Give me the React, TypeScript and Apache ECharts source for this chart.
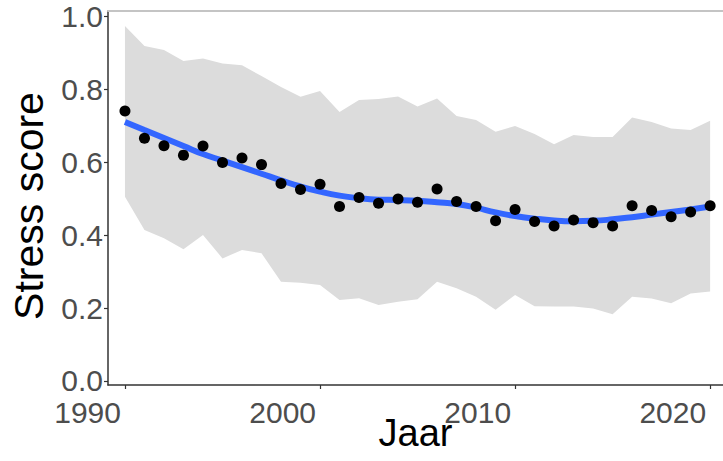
import React, { useEffect, useRef } from "react";
import * as echarts from "echarts";

const years = [1990, 1991, 1992, 1993, 1994, 1995, 1996, 1997, 1998, 1999, 2000, 2001, 2002, 2003, 2004, 2005, 2006, 2007, 2008, 2009, 2010, 2011, 2012, 2013, 2014, 2015, 2016, 2017, 2018, 2019, 2020];
const stress = [0.740, 0.665, 0.645, 0.619, 0.644, 0.599, 0.611, 0.593, 0.541, 0.525, 0.539, 0.478, 0.503, 0.487, 0.499, 0.490, 0.526, 0.492, 0.478, 0.439, 0.470, 0.437, 0.425, 0.441, 0.434, 0.425, 0.480, 0.467, 0.450, 0.463, 0.480];
const trend = [0.710, 0.688, 0.666, 0.644, 0.622, 0.604, 0.586, 0.568, 0.550, 0.533, 0.519, 0.508, 0.501, 0.497, 0.496, 0.494, 0.490, 0.485, 0.475, 0.462, 0.452, 0.445, 0.440, 0.438, 0.439, 0.443, 0.449, 0.456, 0.463, 0.470, 0.478];
const upper = [0.973, 0.918, 0.907, 0.877, 0.884, 0.870, 0.865, 0.836, 0.806, 0.779, 0.795, 0.737, 0.770, 0.773, 0.780, 0.752, 0.774, 0.726, 0.715, 0.683, 0.699, 0.677, 0.649, 0.674, 0.669, 0.669, 0.722, 0.710, 0.692, 0.688, 0.713];
const lower = [0.505, 0.414, 0.391, 0.361, 0.400, 0.336, 0.359, 0.350, 0.272, 0.269, 0.263, 0.222, 0.227, 0.208, 0.217, 0.224, 0.272, 0.254, 0.231, 0.195, 0.236, 0.205, 0.204, 0.204, 0.199, 0.183, 0.231, 0.226, 0.213, 0.240, 0.245];
const xTicks = [1990, 2000, 2010, 2020];
const yTicks = [0.0, 0.2, 0.4, 0.6, 0.8, 1.0];

const FONT = "'Liberation Sans', Arial, Helvetica, sans-serif";

export default function App() {
  const ref = useRef<HTMLDivElement>(null);
  useEffect(() => {
    if (!ref.current) return;
    const chart = echarts.init(ref.current, undefined, { renderer: "svg" });
    const xMin = 1989.13;
    const xMax = 2020.66;
    chart.setOption({
      animation: false,
      grid: { left: 108, right: 0, top: 11, bottom: 76, containLabel: false, outerBoundsMode: "none" },
      xAxis: [
        {
          type: "value",
          min: xMin,
          max: xMax,
          axisLine: { show: true, onZero: false, lineStyle: { color: "#333333", width: 1.5 } },
          axisTick: { show: true, length: 4, customValues: xTicks, lineStyle: { color: "#333333", width: 1.2 } },
          axisLabel: {
            customValues: xTicks,
            formatter: (v: number) => String(Math.round(v)),
            fontSize: 30,
            lineHeight: 24,
            fontFamily: FONT,
            color: "#4d4d4d",
            align: "right",
            padding: [0, 4, 0, 0],
            margin: 15,
          },
          splitLine: { show: false },
          name: "Jaar",
          nameLocation: "middle",
          nameGap: 31,
          nameMoveOverlap: false,
          nameTextStyle: { fontSize: 38, lineHeight: 34, fontFamily: FONT, color: "#000000" },
        },
        {
          type: "value",
          position: "top",
          min: xMin,
          max: xMax,
          axisLine: { show: true, onZero: false, lineStyle: { color: "#c4c4c4", width: 2 } },
          axisTick: { show: false },
          axisLabel: { show: false },
          splitLine: { show: false },
        },
      ],
      yAxis: {
        type: "value",
        min: -0.011,
        max: 1.014,
        axisLine: { show: true, onZero: false, lineStyle: { color: "#333333", width: 1.5 } },
        axisTick: { show: true, length: 4, customValues: yTicks, lineStyle: { color: "#333333", width: 1.2 } },
        axisLabel: {
          customValues: yTicks,
          formatter: (v: number) => v.toFixed(1),
          fontSize: 30,
          lineHeight: 24,
          fontFamily: FONT,
          color: "#4d4d4d",
          margin: 5,
        },
        splitLine: { show: false },
        name: "Stress score",
        nameLocation: "middle",
        nameGap: 59,
        nameMoveOverlap: false,
        nameTextStyle: { fontSize: 41, fontFamily: FONT, color: "#000000", padding: [0, 16, 0, 0] },
      },
      series: [
        {
          type: "custom",
          name: "band",
          data: years.map((y, i) => [y, lower[i], upper[i]]),
          silent: true,
          renderItem: (params: any, api: any) => {
            if (params.dataIndex !== 0) return null;
            const top = years.map((y, i) => api.coord([y, upper[i]]));
            const bottom = years.map((y, i) => api.coord([y, lower[i]])).reverse();
            return {
              type: "polygon",
              shape: { points: top.concat(bottom) },
              style: { fill: "#dcdcdc", stroke: "none" },
            };
          },
          encode: { x: 0, y: [1, 2] },
          z: 1,
        },
        {
          type: "line",
          name: "trend",
          data: years.map((y, i) => [y, trend[i]]),
          smooth: true,
          symbol: "none",
          lineStyle: { color: "#3366ff", width: 6 },
          z: 2,
        },
        {
          type: "scatter",
          name: "stress",
          data: years.map((y, i) => [y, stress[i]]),
          symbolSize: 11,
          itemStyle: { color: "#000000", opacity: 1 },
          z: 3,
        },
      ],
    });
    return () => chart.dispose();
  }, []);
  return (
    <div
      ref={ref}
      style={{ position: "fixed", left: 0, top: 0, width: 723, height: 461, background: "#ffffff" }}
    />
  );
}
